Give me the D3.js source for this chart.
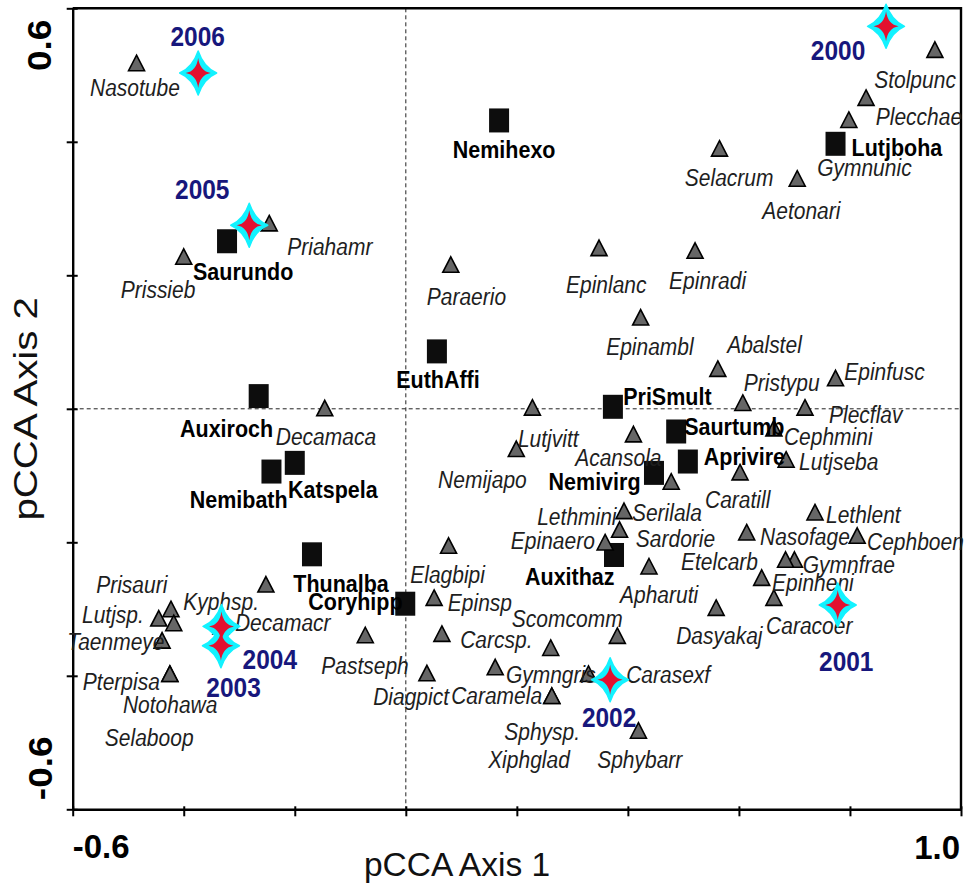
<!DOCTYPE html>
<html>
<head>
<meta charset="utf-8">
<script src="https://cdn.jsdelivr.net/npm/d3@7"></script>
<style>
  html, body { margin: 0; padding: 0; background: #fff; }
  svg { display: block; }
</style>
</head>
<body>
<div id="chart"></div>
<script>
// ---- pCCA ordination scores ----
// Species scores (triangles)
const speciesNames = [
  "Nasotube","Priahamr","Prissieb","Paraerio","Epinlanc","Epinradi","Selacrum","Aetonari",
  "Gymnunic","Plecchae","Stolpunc","Epinambl","Abalstel","Epinfusc","Pristypu","Plecflav",
  "Cephmini","Lutjseba","Caratill","Lethlent","Nasofage","Cephboen","Gymnfrae","Epinheni",
  "Etelcarb","Caracoer","Apharuti","Dasyakaj","Scomcomm","Carasexf","Gymngris","Caramela",
  "Sphysp.","Xiphglad","Sphybarr","Diagpict","Pastseph","Carcsp.","Epinsp","Elagbipi",
  "Lutjvitt","Nemijapo","Acansola","Serilala","Lethmini","Sardorie","Epinaero","Decamaca",
  "Kyphsp.","Decamacr","Prisauri","Lutjsp.","Notohawa","Taenmeye","Pterpisa","Selaboop"
];
const speciesX = [
  -0.485,-0.246,-0.400, 0.081, 0.348, 0.521, 0.565, 0.705,
   0.798, 0.829, 0.953, 0.423, 0.562, 0.774, 0.607, 0.719,
   0.663, 0.685, 0.602, 0.737, 0.614, 0.813, 0.700, 0.684,
   0.641, 0.663, 0.438, 0.559, 0.381, 0.329, 0.161, 0.263,
   0.261, 0.263, 0.419, 0.038,-0.073, 0.065, 0.051, 0.077,
   0.228, 0.199, 0.410, 0.478, 0.393, 0.385, 0.359,-0.146,
  -0.252,-0.333,-0.423,-0.445,-0.418,-0.439,-0.425,-0.425
];
const speciesY = [
   0.517, 0.277, 0.227, 0.215, 0.240, 0.236, 0.389, 0.344,
   0.432, 0.465, 0.537, 0.136, 0.059, 0.045, 0.008, 0.001,
  -0.030,-0.077,-0.096,-0.156,-0.186,-0.191,-0.227,-0.227,
  -0.254,-0.284,-0.237,-0.299,-0.341,-0.398,-0.388,-0.431,
  -0.359,-0.431,-0.483,-0.397,-0.340,-0.338,-0.284,-0.206,
   0.001,-0.061,-0.039,-0.110,-0.154,-0.182,-0.201, 0.000,
  -0.264,-0.327,-0.301,-0.315,-0.322,-0.348,-0.398,-0.398
];

// Site scores (squares)
const siteNames = ["Saurundo","Nemihexo","Lutjboha","EuthAffi","Auxiroch","Nemibath","Katspela",
                   "Thunalba","Coryhipp","PriSmult","Saurtumb","Aprivire","Nemivirg","Auxithaz"];
const siteX = [-0.322, 0.168, 0.774, 0.056,-0.265,-0.242,-0.200,-0.169,-0.001, 0.373, 0.487, 0.508, 0.447, 0.375];
const siteY = [ 0.251, 0.432, 0.397, 0.086, 0.019,-0.094,-0.081,-0.218,-0.292, 0.003,-0.034,-0.079,-0.096,-0.219];

// Year scores (stars)
const yearNames = ["2006","2005","2000","2001","2002","2004","2003"];
const yearX = [-0.374,-0.282, 0.865, 0.778, 0.368,-0.332,-0.333];
const yearY = [ 0.503, 0.275, 0.573,-0.294,-0.406,-0.326,-0.355];

// Axes
const xTickValues = [-0.6,-0.4,-0.2,0,0.2,0.4,0.6,0.8,1.0];
const yTickValues = [-0.6,-0.4,-0.2,0,0.2,0.4,0.6];
const xTickLabels = ["-0.6","1.0"];
const yTickLabels = ["0.6","-0.6"];
const xTitle = "pCCA Axis 1";
const yTitle = "pCCA Axis 2";

// ---- label placement (pixel offsets from each marker) ----
const speciesLabelOffset = {
  "Nasotube":[-46.5,24], "Priahamr":[18,23], "Prissieb":[-63,33], "Paraerio":[-24,31.5],
  "Epinlanc":[-33,36.5], "Epinradi":[-26,30], "Selacrum":[-34.7,28.5], "Aetonari":[-35,32],
  "Gymnunic":[-31.7,48], "Plecchae":[9.7,18.6], "Stolpunc":[-60.7,29.7], "Epinambl":[-34.5,29],
  "Abalstel":[9.3,-24.2], "Epinfusc":[8.7,-6.7], "Pristypu":[1,-20.5], "Plecflav":[24,7],
  "Cephmini":[10,8], "Lutjseba":[13,2], "Caratill":[-35,27], "Lethlent":[11,2],
  "Nasofage":[13.3,4], "Cephboen":[9.8,5.7], "Gymnfrae":[8.3,5], "Epinheni":[-13.5,23],
  "Etelcarb":[-80.7,-16.3], "Caracoer":[-7.8,27.7], "Apharuti":[-29,28.3], "Dasyakaj":[-40,27.3],
  "Scomcomm":[-105.5,-17.4], "Carasexf":[37.7,0.3], "Gymngris":[10.7,7], "Caramela":[-100.7,0],
  "Sphysp.":[-46.5,83.4], "Xiphglad":[-63.7,63.3], "Sphybarr":[-41.3,28.7], "Diagpict":[-53.7,23.5],
  "Pastseph":[-44,30.2], "Carcsp.":[18.3,5.3], "Epinsp":[13.7,4.4], "Elagbipi":[-38.3,28.7],
  "Lutjvitt":[-14.5,31], "Nemijapo":[-78.2,30.2], "Acansola":[-58.3,23.2], "Serilala":[-39.3,31],
  "Lethmini":[-86.8,5.7], "Sardorie":[16.3,8.5], "Epinaero":[-94.3,-2], "Decamaca":[-49,28],
  "Kyphsp.":[-82.7,17], "Decamacr":[14,-4], "Prisauri":[-74.8,-24.7], "Lutjsp.":[-76.8,-4],
  "Notohawa":[-50.8,81.2], "Taenmeye":[-94.8,0.7], "Pterpisa":[-87,7.7], "Selaboop":[-65,63.7]
};
const siteLabelOffset = {
  "Saurundo":[-34,30.5], "Nemihexo":[-46.3,29.5], "Lutjboha":[16,3.5], "EuthAffi":[-40.7,28.3],
  "Auxiroch":[-78.7,32], "Nemibath":[-81.7,28.3], "Katspela":[-6.7,27], "Thunalba":[-18.7,29],
  "Coryhipp":[-97,-2], "PriSmult":[10.3,-10], "Saurtumb":[8,-4.6], "Aprivire":[16,-5.3],
  "Nemivirg":[-105.4,8.7], "Auxithaz":[-89,21.4]
};
const yearLabelOffset = {
  "2006":[-0.5,-37], "2005":[-47,-36], "2000":[-48,24], "2001":[8.5,56.7],
  "2002":[-1,37.5], "2004":[48.3,33.3], "2003":[12.6,42]
};

// ---- drawing ----
const W = 965, H = 885;
const plot = { left: 72.7, right: 961, top: 8.3, bottom: 809.3 };
const FONT = "'Liberation Sans', Arial, Helvetica, sans-serif";
const SY = 1.12; // slight vertical stretch of the lettering

const svg = d3.select("#chart").append("svg")
  .attr("width", W).attr("height", H)
  .style("font-family", FONT);

const x = d3.scaleLinear().domain([-0.6, 1.0]).range([plot.left, plot.right]);
const y = d3.scaleLinear().domain([-0.6, 0.6]).range([plot.bottom, plot.top]);

// zero reference lines
svg.append("line")
  .attr("x1", x(0)).attr("x2", x(0)).attr("y1", plot.top).attr("y2", plot.bottom)
  .attr("stroke", "#222").attr("stroke-width", 1).attr("stroke-dasharray", "4,3");
svg.append("line")
  .attr("x1", plot.left).attr("x2", plot.right).attr("y1", y(0)).attr("y2", y(0))
  .attr("stroke", "#222").attr("stroke-width", 1).attr("stroke-dasharray", "4,3");

// frame (top and right)
svg.append("path")
  .attr("d", `M${plot.left},${plot.top} H${plot.right} V${plot.bottom}`)
  .attr("fill", "none").attr("stroke", "#000").attr("stroke-width", 2.4);

// bottom axis
const gx = svg.append("g")
  .attr("transform", `translate(0,${plot.bottom})`)
  .call(d3.axisBottom(x).tickValues(xTickValues).tickSize(7).tickSizeOuter(0).tickFormat(""));
gx.select(".domain").attr("stroke", "#000").attr("stroke-width", 2.4);
gx.selectAll(".tick line").attr("y1", -3).attr("stroke", "#000").attr("stroke-width", 2);

// left axis
const gy = svg.append("g")
  .attr("transform", `translate(${plot.left},0)`)
  .call(d3.axisLeft(y).tickValues(yTickValues).tickSize(6).tickSizeOuter(0).tickFormat(""));
gy.select(".domain").attr("stroke", "#000").attr("stroke-width", 2.4);
gy.selectAll(".tick line").attr("x1", 5).attr("stroke", "#000").attr("stroke-width", 2);

// end tick labels
svg.append("text").text(xTickLabels[0])
  .attr("x", x(-0.6)).attr("y", 846).attr("dominant-baseline", "central")
  .attr("font-size", 33).attr("font-weight", "bold").attr("fill", "#000");
svg.append("text").text(xTickLabels[1])
  .attr("x", x(1.0) - 1).attr("y", 847).attr("dominant-baseline", "central")
  .attr("text-anchor", "end")
  .attr("font-size", 33).attr("font-weight", "bold").attr("fill", "#000");
svg.append("text").text(yTickLabels[0])
  .attr("transform", `translate(39,${y(0.6) + 37}) rotate(-90) scale(${SY},1)`)
  .attr("text-anchor", "middle").attr("dominant-baseline", "central")
  .attr("font-size", 33).attr("font-weight", "bold").attr("fill", "#000");
svg.append("text").text(yTickLabels[1])
  .attr("transform", `translate(40,${y(-0.6) - 41}) rotate(-90) scale(${SY},1)`)
  .attr("text-anchor", "middle").attr("dominant-baseline", "central")
  .attr("font-size", 33).attr("font-weight", "bold").attr("fill", "#000");

// axis titles
svg.append("text").text(xTitle)
  .attr("x", 457).attr("y", 864).attr("text-anchor", "middle").attr("dominant-baseline", "central")
  .attr("font-size", 33.5).attr("fill", "#111");
svg.append("text").text(yTitle)
  .attr("transform", `translate(26,${y(0)}) rotate(-90) scale(1.2,1)`)
  .attr("text-anchor", "middle").attr("dominant-baseline", "central")
  .attr("font-size", 33.5).attr("fill", "#111");

// sites: black squares
const sites = siteNames.map((n, i) => ({ name: n, x: siteX[i], y: siteY[i] }));
svg.append("g").selectAll("rect").data(sites).join("rect")
  .attr("x", d => x(d.x) - 10).attr("y", d => y(d.y) - 12)
  .attr("width", 20).attr("height", 24)
  .attr("fill", "#0d0d0d");

// species: grey triangles
const species = speciesNames.map((n, i) => ({ name: n, x: speciesX[i], y: speciesY[i] }));
svg.append("g").selectAll("path").data(species).join("path")
  .attr("d", "M0,-8.5 L8,7 L-8,7 Z")
  .attr("transform", d => `translate(${x(d.x)},${y(d.y)})`)
  .attr("fill", "#666").attr("stroke", "#000").attr("stroke-width", 1.6)
  .attr("stroke-linejoin", "miter");

// species labels (italic)
svg.append("g").selectAll("text").data(species).join("text")
  .text(d => d.name)
  .attr("transform", d => {
    const o = speciesLabelOffset[d.name];
    return `translate(${x(d.x) + o[0]},${y(d.y) + o[1]}) scale(1,${SY})`;
  })
  .attr("dominant-baseline", "central")
  .attr("font-size", 21).attr("font-style", "italic").attr("fill", "#1e1e1e");

// site labels (bold)
svg.append("g").selectAll("text").data(sites).join("text")
  .text(d => d.name)
  .attr("transform", d => {
    const o = siteLabelOffset[d.name];
    return `translate(${x(d.x) + o[0]},${y(d.y) + o[1]}) scale(1,${SY})`;
  })
  .attr("dominant-baseline", "central")
  .attr("font-size", 21.5).attr("font-weight", "bold").attr("fill", "#000");

// years: red four-point stars with a cyan halo
const years = yearNames.map((n, i) => ({ name: n, x: yearX[i], y: yearY[i] }));
function star(rx, ry, a) {
  return `M0,${-ry} Q${a},${-a} ${rx},0 Q${a},${a} 0,${ry} Q${-a},${a} ${-rx},0 Q${-a},${-a} 0,${-ry} Z`;
}
const gStars = svg.append("g");
gStars.selectAll("path.halo").data(years).join("path")
  .attr("class", "halo")
  .attr("d", star(18.5, 22, 5.5))
  .attr("transform", d => `translate(${x(d.x)},${y(d.y)})`)
  .attr("fill", "#12f2ff").attr("stroke", "#12f2ff").attr("stroke-width", 1.5)
  .attr("stroke-linejoin", "round");
gStars.selectAll("path.core").data(years).join("path")
  .attr("class", "core")
  .attr("d", star(12.5, 15, 1.8))
  .attr("transform", d => `translate(${x(d.x)},${y(d.y)})`)
  .attr("fill", "#e3102f");

// year labels
svg.append("g").selectAll("text").data(years).join("text")
  .text(d => d.name)
  .attr("transform", d => {
    const o = yearLabelOffset[d.name];
    return `translate(${x(d.x) + o[0]},${y(d.y) + o[1]}) scale(1,${SY})`;
  })
  .attr("text-anchor", "middle").attr("dominant-baseline", "central")
  .attr("font-size", 24.5).attr("font-weight", "bold").attr("fill", "#17177c");
</script>
</body>
</html>
